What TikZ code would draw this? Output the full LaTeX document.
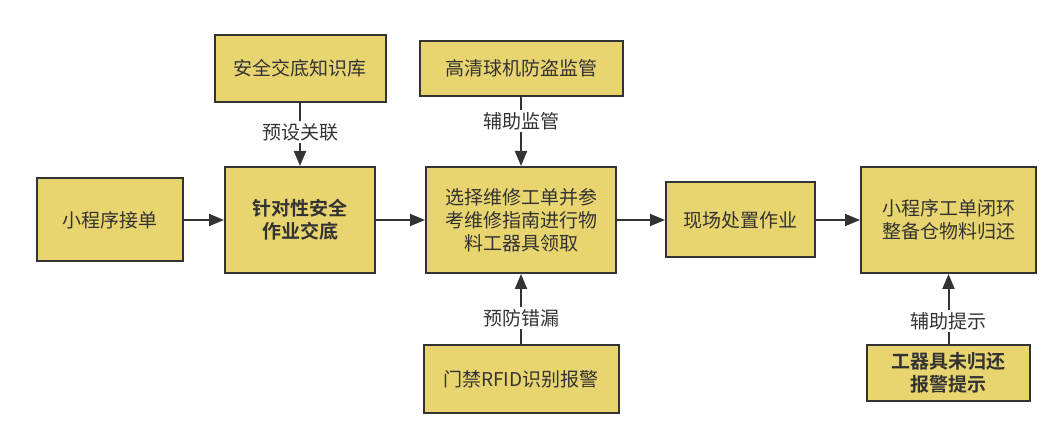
\documentclass[tikz,border=0pt]{standalone}
\usepackage{fontspec}
\setmainfont{Noto Sans CJK SC}[BoldFont={Noto Sans CJK SC Bold}]
\usepackage{xcolor}
\usetikzlibrary{positioning, arrows.meta}
\definecolor{boxfill}{HTML}{E8D570}
\definecolor{ink}{HTML}{333333}
\tikzstyle{every node}=[font=\fontsize{19}{23}\selectfont, text=ink]
\tikzstyle{block} = [rectangle, draw=ink, line width=2pt, fill=boxfill, align=center, inner sep=4pt]
\tikzstyle{line} = [draw=ink, line width=2pt, -{Triangle[length=15pt,width=12pt]}]
\tikzstyle{tag} = [fill=white, inner sep=2pt]

\begin{document}
\begin{tikzpicture}[x=1pt, y=1pt]
    \useasboundingbox (0,0) rectangle (1064,447);
    % Place nodes
    \node [block, minimum width=146pt, minimum height=83pt] (order) at (110,227) {小程序接单};
    \node [block, minimum width=150pt, minimum height=106pt, right=40pt of order] (brief) {\bfseries 针对性安全\\\bfseries 作业交底};
    \node [block, minimum width=171pt, minimum height=67pt, above=63pt of brief] (kbase) {安全交底知识库};
    \node [block, minimum width=190pt, minimum height=106pt, right=49pt of brief] (pick) {选择维修工单并参\\考维修指南进行物\\料工器具领取};
    \node [block, minimum width=203pt, minimum height=55pt, above=69pt of pick] (camera) {高清球机防盗监管};
    \node [block, minimum width=195pt, minimum height=68pt, below=70pt of pick] (rfid) {门禁RFID识别报警};
    \node [block, minimum width=149pt, minimum height=75pt, right=48pt of pick] (onsite) {现场处置作业};
    \node [block, minimum width=175pt, minimum height=106pt, right=44pt of onsite] (close) {小程序工单闭环\\整备仓物料归还};
    \node [block, minimum width=163pt, minimum height=56pt, below=70pt of close] (alarm) {\bfseries 工器具未归还\\\bfseries 报警提示};
    % Draw edges
    \path [line] (order) -- (brief);
    \path [line] (brief) -- (pick);
    \path [line] (pick) -- (onsite);
    \path [line] (onsite) -- (close);
    \path [line] (kbase) -- node [tag, pos=0.46] {预设关联} (brief);
    \path [line] (camera) -- node [tag, pos=0.35] {辅助监管} (pick);
    \path [line] (rfid) -- node [tag, pos=0.37] {预防错漏} (pick);
    \path [line] (alarm) -- node [tag, pos=0.33] {辅助提示} (close);
\end{tikzpicture}
\end{document}
